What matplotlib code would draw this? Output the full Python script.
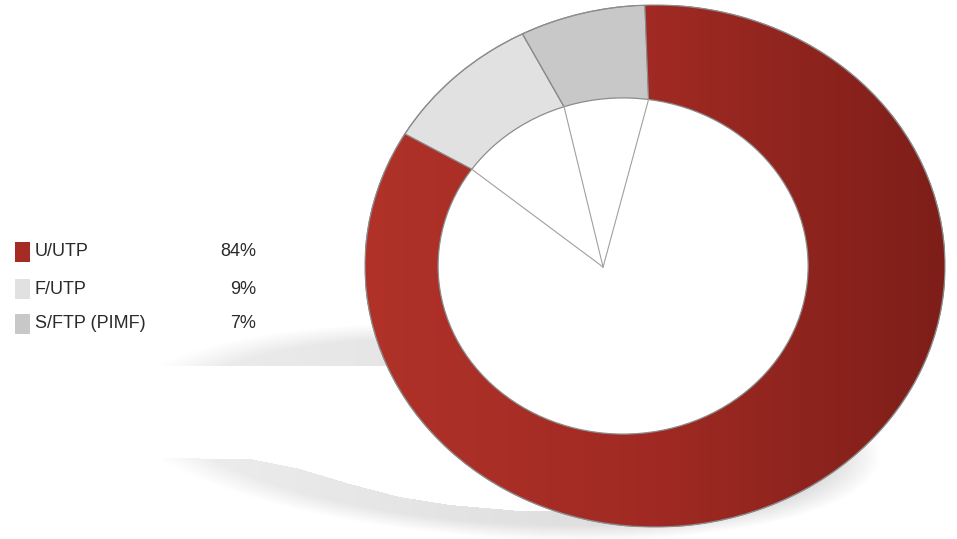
import numpy as np
import matplotlib.pyplot as plt
from matplotlib.patches import Ellipse, Rectangle
from matplotlib.colors import LinearSegmentedColormap

# data
labels = ["U/UTP", "F/UTP", "S/FTP (PIMF)"]
shares = [84, 9, 7]
colors = ["#a52b24", "#e1e1e1", "#c8c8c8"]
pct_text = ["84%", "9%", "7%"]

W, H = 957, 539
fig = plt.figure(figsize=(W / 100, H / 100), dpi=100)
bg = fig.add_axes([0, 0, 1, 1])
bg.set_xlim(0, W)
bg.set_ylim(H, 0)
bg.axis("off")

# soft shadow ring under the donut (decoration)
yy, xx = np.mgrid[0:H, 0:W] + 0.5


def ell(cx, cy, a, b, t):
    dx = xx - cx
    dy = yy - cy
    u = (dx * np.cos(t) + dy * np.sin(t)) / a
    v = (-dx * np.sin(t) + dy * np.cos(t)) / b
    return np.sqrt(u * u + v * v)


outer = ell(500, 432, 382, 106, 0.065)
hole_bot = np.interp(xx, [150, 250, 300, 350, 400, 450, 520, 620, 700, 760],
                     [458, 459, 469, 484, 497, 505, 511, 510, 500, 480])
in_hole = (yy > 366) & (yy < hole_bot) & (xx < 760)
shade = np.clip((1 - outer) * 7, 0, 1) * (~in_hole)
shade *= np.clip((xx - 150) / 6, 0, 1)
rgba = np.zeros((H, W, 4))
rgba[..., :3] = 0.6
rgba[..., 3] = shade * np.clip(0.17 + 0.22 * (xx - 150) / 650, 0.17, 0.39)
bg.imshow(rgba, extent=(0, W, H, 0), zorder=0, interpolation="bilinear")

# legend
font = ["Liberation Sans Narrow", "Liberation Sans", "DejaVu Sans"]
rows_y = [252, 289, 324]
for lab, col, pct, y in zip(labels, colors, pct_text, rows_y):
    bg.add_patch(Rectangle((15, y - 10), 15, 20, facecolor=col, edgecolor="none"))
    bg.text(35, y, lab, va="center", ha="left", fontsize=13, color="#2a2a2a", family=font)
    bg.text(256, y, pct, va="center", ha="right", fontsize=13, color="#2a2a2a", family=font)

# donut (elliptical)
x0, x1, top, bot = 365, 945, 5, 527
ax = fig.add_axes([x0 / W, (H - bot) / H, (x1 - x0) / W, (bot - top) / H])
wedges, _ = ax.pie(shares, colors=colors, startangle=92, counterclock=False,
                   radius=1, wedgeprops=dict(edgecolor="#8c8c8c", linewidth=0.8))
ax.set_aspect("auto")
ax.set_xlim(-1, 1)
ax.set_ylim(-1, 1)
ax.axis("off")

red_cmap = LinearSegmentedColormap.from_list("red", ["#b03229", "#a02a23", "#7e1e19"])
grad = np.tile(np.linspace(0, 1, 256), (8, 1))
img = ax.imshow(grad, extent=(-1, 1, -1, 1), cmap=red_cmap, aspect="auto", zorder=1.5)
img.set_clip_path(wedges[0])

ax.add_patch(Ellipse((0, 0), 2, 2, fill=False, edgecolor="#8c8c8c", lw=0.9, zorder=3))

# boundaries between slices
hx, hy, ha, hb = -0.11, 0.0, 0.638, 0.644
bounds = 92 - 3.6 * np.cumsum([0] + shares[:-1])
for th in bounds:
    c, s = np.cos(np.radians(th)), np.sin(np.radians(th))
    ax.plot([0.63 * c, c], [0.63 * s, s], color="#8c8c8c", lw=0.8, zorder=3)

# hole
ax.add_patch(Ellipse((hx, hy), 2 * ha, 2 * hb, facecolor="white", edgecolor="#8c8c8c", lw=0.9, zorder=4))

# spokes inside the hole
px, py = -0.179, -0.004
for th in bounds:
    c, s = np.cos(np.radians(th)), np.sin(np.radians(th))
    A = (c / ha) ** 2 + (s / hb) ** 2
    B = -2 * (c * hx / ha ** 2 + s * hy / hb ** 2)
    C = (hx / ha) ** 2 + (hy / hb) ** 2 - 1
    t = (-B + np.sqrt(B * B - 4 * A * C)) / (2 * A)
    ax.plot([t * c, px], [t * s, py], color="#a0a0a0", lw=0.8, zorder=5)

fig.savefig("out.png", dpi=100)
